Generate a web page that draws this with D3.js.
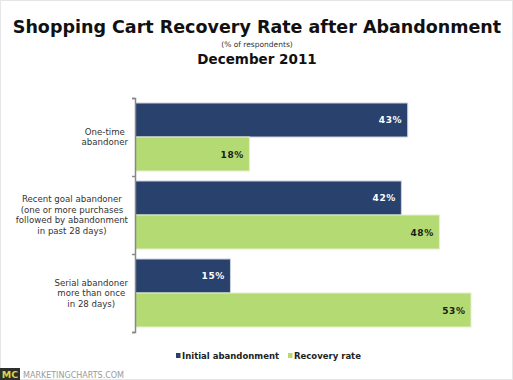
<!DOCTYPE html>
<html><head><meta charset="utf-8">
<script src="https://cdn.jsdelivr.net/npm/d3@7"></script>
<style>body{margin:0;background:#fff}svg{display:block}text{font-family:"DejaVu Sans",Verdana,sans-serif}</style>
</head><body><svg id="c" width="513" height="380"></svg>
<script>
const categories = [
  ["One-time", "abandoner"],
  ["Recent goal abandoner", "(one or more purchases", "followed by abandonment", "in past 28 days)"],
  ["Serial abandoner", "more than once", "in 28 days)"]
];
const seriesNames = ["Initial abandonment", "Recovery rate"];
const initialAbandonment = [43, 42, 15];
const recoveryRate = [18, 48, 53];
const colors = ["#28416d", "#b4da73"];
const labelColors = ["#ffffff", "#1a1a1a"];

const svg = d3.select("#c");
const W = 513, H = 380;
svg.append("rect").attr("width", W).attr("height", H).attr("fill", "#fff");
svg.append("rect").attr("x",0.5).attr("y",0.5).attr("width",W-1).attr("height",H-1).attr("fill","none").attr("stroke","#e6e6e6");

svg.append("text").attr("x", 257).attr("y", 33).attr("text-anchor","middle")
  .attr("font-size", 17.5).attr("font-weight","bold").attr("fill","#111")
  .text("Shopping Cart Recovery Rate after Abandonment");
svg.append("text").attr("x", 257).attr("y", 47).attr("text-anchor","middle")
  .attr("font-size", 7.5).attr("fill","#333").text("(% of respondents)");
svg.append("text").attr("x", 257).attr("y", 64).attr("text-anchor","middle")
  .attr("font-size", 13.5).attr("font-weight","bold").attr("fill","#111").text("December 2011");

const x0 = 135;
const x = d3.scaleLinear().domain([0, 53]).range([x0, 470.5]);
const idx = d3.range(categories.length);
const y = d3.scaleBand().domain(idx).range([98, 332]).paddingInner(0).paddingOuter(0);
const inner = d3.scaleBand().domain([0,1]).range([0, y.bandwidth()]).paddingInner(0).paddingOuter(0.147);

const series = [initialAbandonment, recoveryRate];
const g = svg.append("g");
series.forEach((vals, s) => {
  g.selectAll(null).data(vals).enter().append("rect")
    .attr("x", x(0)+0.5)
    .attr("y", (d,i) => y(i) + inner(s))
    .attr("width", d => x(d) - x(0))
    .attr("height", inner.bandwidth())
    .attr("fill", colors[s])
    .attr("stroke", s === 0 ? "#c9d1de" : "#e3f0c9").attr("stroke-width", 1);
  g.selectAll(null).data(vals).enter().append("text")
    .attr("x", d => x(d) - 5)
    .attr("y", (d,i) => y(i) + inner(s) + inner.bandwidth()/2 + 3.5)
    .attr("text-anchor","end").attr("font-size", 9).attr("font-weight","bold")
    .attr("fill", labelColors[s]).attr("letter-spacing", 0.6)
    .text(d => d + "%");
});

// axis
const axis = d3.axisLeft(d3.scaleLinear().domain([0, 3]).range([98, 332]))
  .tickValues([0,1,2,3]).tickSize(3).tickFormat("");
const ag = svg.append("g").attr("transform", `translate(${x0},0)`).call(axis);
ag.select(".domain").attr("stroke", "#888").attr("stroke-width", 1.5);
ag.selectAll(".tick line").attr("stroke", "#888").attr("stroke-width", 1.5);

// category labels: centered block, block right-aligned at x=128
categories.forEach((lines, i) => {
  const cy = y(i) + y.bandwidth()/2;
  const lh = 10.5;
  const start = cy - (lines.length - 1) * lh / 2 + 3;
  const t = svg.append("text").attr("text-anchor","middle").attr("font-size", 8.6).attr("fill","#333");
  const spans = lines.map((l, k) => t.append("tspan").attr("y", start + k*lh).text(l));
  const maxW = d3.max(spans, s => s.node().getComputedTextLength());
  spans.forEach(s => s.attr("x", 128 - maxW/2));
});

// legend
const legX = [176, 288];
seriesNames.forEach((n, s) => {
  svg.append("rect").attr("x", legX[s]).attr("y", 353).attr("width", 4.5).attr("height", 5).attr("fill", colors[s]);
  svg.append("text").attr("x", legX[s] + 6).attr("y", 358.5).attr("font-size", 8.5).attr("font-weight","bold").attr("fill","#222").text(n);
});

// footer
svg.append("rect").attr("x", 0).attr("y", 368).attr("width", 20).attr("height", 12).attr("fill", "#2e2e2a");
svg.append("text").attr("x", 10).attr("y", 378).attr("text-anchor","middle").attr("font-size", 9.5).attr("font-weight","bold").attr("fill","#d7d84a").text("MC");
svg.append("text").attr("x", 23).attr("y", 378).attr("font-size", 8).attr("fill","#9a9a9a").text("MARKETINGCHARTS.COM");
</script></body></html>
